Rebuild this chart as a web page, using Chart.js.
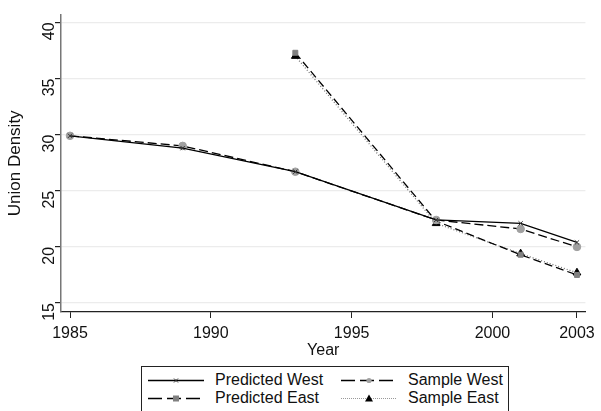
<!DOCTYPE html>
<html>
<head>
<meta charset="utf-8">
<script src="https://cdn.jsdelivr.net/npm/chart.js@4/dist/chart.umd.min.js"></script>
<style>
    html, body { margin: 0; padding: 0; background: #fff; }
    body { width: 601px; height: 411px; position: relative; overflow: hidden; font-family: "Liberation Sans", Arial, sans-serif; }
    .chart-box { position: absolute; left: 0; top: 0; width: 601px; height: 360px; }
    .legend-list { position: absolute; left: 141px; top: 366px; width: 368px; height: 60px; border: 1px solid #222; box-sizing: border-box; }
    .legend-list ul { list-style: none; margin: 0; padding: 4px 0 0 6px; display: grid; grid-template-columns: 193px 160px; row-gap: 0px; }
    .legend-list li { display: flex; align-items: center; height: 18px; font-size: 16px; color: #111; white-space: nowrap; }
    .legend-list svg { margin-right: 11px; flex: none; }
</style>
</head>
<body>
<div class="chart-box"><canvas id="unionChart"></canvas></div>
<div class="legend-list"><ul class="series"></ul></div>
<script>
// 연도 / 계열값
const years = [1985, 1989, 1993, 1998, 2001, 2003];
const predictedWest = [29.9, 28.8, 26.7, 22.4, 22.1, 20.4];
const sampleWest = [29.9, 29.0, 26.7, 22.4, 21.6, 20.0];
const predictedEast = [null, null, 37.3, 22.3, 19.3, 17.5];
const sampleEast = [null, null, 37.0, 22.1, 19.4, 17.7];

const xTicks = [1985, 1990, 1995, 2000, 2003];
const yTicks = [15, 20, 25, 30, 35, 40];

const toPoints = vals => years.map((x, i) => ({ x: x, y: vals[i] }));

const seriesStyles = [
    { label: 'Predicted West', data: predictedWest, dash: [], lineColor: '#000', point: 'crossRot', pointColor: '#333', radius: 3 },
    { label: 'Sample West', data: sampleWest, dash: [9, 4], lineColor: '#000', point: 'circle', pointColor: '#a0a0a0', radius: 3.8 },
    { label: 'Predicted East', data: predictedEast, dash: [8, 4], lineColor: '#000', point: 'rect', pointColor: '#808080', radius: 3.5 },
    { label: 'Sample East', data: sampleEast, dash: [1, 2], lineColor: '#777', point: 'triangle', pointColor: '#000', radius: 4.5 },
];

const ctx = document.getElementById('unionChart').getContext('2d');
new Chart(ctx, {
    type: 'line',
    data: {
        datasets: seriesStyles.map(s => ({
            label: s.label,
            data: toPoints(s.data),
            borderColor: s.lineColor,
            borderWidth: 1.3,
            borderDash: s.dash,
            pointStyle: s.point,
            pointRadius: s.radius,
            pointBackgroundColor: s.pointColor,
            pointBorderColor: s.pointColor,
            pointBorderWidth: 1,
            fill: false,
            tension: 0,
        })),
    },
    options: {
        responsive: true,
        maintainAspectRatio: false,
        animation: false,
        layout: { padding: { top: 12, right: 15, left: 0, bottom: 0 } },
        plugins: {
            legend: { display: false },
            tooltip: { enabled: false },
        },
        scales: {
            x: {
                type: 'linear',
                min: 1984.68,
                max: 2003.3,
                afterBuildTicks: axis => { axis.ticks = xTicks.map(v => ({ value: v })); },
                afterFit: axis => { axis.height = 48; },
                grid: { drawOnChartArea: false, drawTicks: true, tickLength: 6, tickColor: '#222' },
                border: { color: '#222', width: 1.2 },
                ticks: {
                    color: '#111',
                    font: { family: 'Liberation Sans', size: 16 },
                    padding: 6,
                    maxRotation: 0,
                    callback: v => String(v),
                },
                title: {
                    display: true,
                    text: 'Year',
                    color: '#111',
                    font: { family: 'Liberation Sans', size: 16 },
                    padding: { top: -8, bottom: 0 },
                },
            },
            y: {
                min: 14.2,
                max: 40.7,
                afterBuildTicks: axis => { axis.ticks = yTicks.map(v => ({ value: v })); },
                afterFit: axis => { axis.width = 61; },
                grid: { color: '#ececec', lineWidth: 1.2, drawTicks: true, tickLength: 6, tickColor: '#222' },
                border: { color: '#777', width: 1.5 },
                ticks: {
                    color: '#111',
                    font: { family: 'Liberation Sans', size: 16 },
                    minRotation: 90,
                    maxRotation: 90,
                    padding: 5,
                    callback: v => String(v),
                },
                title: {
                    display: true,
                    text: 'Union Density',
                    color: '#111',
                    font: { family: 'Liberation Sans', size: 17 },
                    padding: { top: 5, bottom: 0 },
                },
            },
        },
    },
});

// 범례 리스트 만들기
const legendList = document.querySelector('.legend-list ul.series');
seriesStyles.forEach(s => {
    const li = document.createElement('li');
    const ns = 'http://www.w3.org/2000/svg';
    const svg = document.createElementNS(ns, 'svg');
    svg.setAttribute('width', '56');
    svg.setAttribute('height', '12');

    const line = document.createElementNS(ns, 'line');
    line.setAttribute('x1', '0');
    line.setAttribute('x2', '56');
    line.setAttribute('y1', '6.5');
    line.setAttribute('y2', '6.5');
    const dotted = s.dash.length && s.dash[0] === 1;
    line.setAttribute('stroke', dotted ? '#999' : '#000');
    line.setAttribute('stroke-width', dotted ? '1' : '1.3');
    if (s.dash.length) line.setAttribute('stroke-dasharray', dotted ? '1 1' : '14 5');
    svg.appendChild(line);

    let mark;
    if (s.point === 'circle') {
        mark = document.createElementNS(ns, 'circle');
        mark.setAttribute('cx', '28'); mark.setAttribute('cy', '6.5'); mark.setAttribute('r', '2.6');
        mark.setAttribute('fill', s.pointColor);
    } else if (s.point === 'rect') {
        mark = document.createElementNS(ns, 'rect');
        mark.setAttribute('x', '25'); mark.setAttribute('y', '3.5'); mark.setAttribute('width', '6'); mark.setAttribute('height', '6');
        mark.setAttribute('fill', s.pointColor);
    } else if (s.point === 'triangle') {
        mark = document.createElementNS(ns, 'polygon');
        mark.setAttribute('points', '28,2.5 32,9.5 24,9.5');
        mark.setAttribute('fill', s.pointColor);
    } else {
        mark = document.createElementNS(ns, 'path');
        mark.setAttribute('d', 'M26,4.5 L30,8.5 M30,4.5 L26,8.5');
        mark.setAttribute('stroke', s.pointColor);
        mark.setAttribute('stroke-width', '1');
    }
    svg.appendChild(mark);

    const title = document.createElement('span');
    title.className = 'title';
    title.innerText = s.label;

    li.appendChild(svg);
    li.appendChild(title);
    legendList.appendChild(li);
});
</script>
</body>
</html>
